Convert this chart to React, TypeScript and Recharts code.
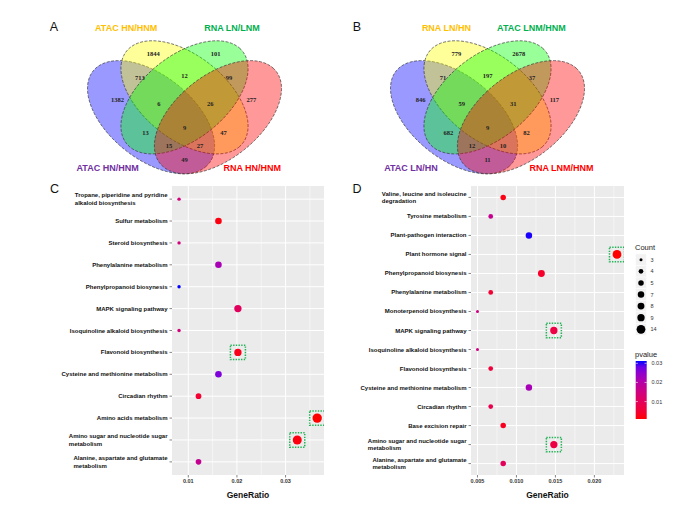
import React from 'react';
import { ScatterChart, Scatter, XAxis, YAxis, CartesianGrid } from 'recharts';

// ---------- Venn diagrams (A, B) ----------
// region keys: B = blue set, Y = yellow, G = green, R = red
const VENN_REGIONS = ['B', 'Y', 'G', 'R', 'BY', 'YG', 'GR', 'BYG', 'YGR', 'BYGR', 'BG', 'YR', 'BGR', 'BYR', 'BR'];

const VENN_A_SETS = ['ATAC HN/HNM', 'ATAC HN/HNM', 'RNA LN/LNM', 'RNA HN/HNM'];
const VENN_A_COUNTS = [1382, 1844, 101, 277, 713, 12, 99, 6, 26, 9, 13, 47, 15, 27, 49];

const VENN_B_SETS = ['ATAC LN/HN', 'RNA LN/HN', 'ATAC LNM/HNM', 'RNA LNM/HNM'];
const VENN_B_COUNTS = [846, 779, 2678, 117, 71, 197, 37, 59, 31, 9, 682, 82, 12, 10, 11];

// ---------- KEGG enrichment (C, D) ----------
const C_PATHWAYS = [
  'Tropane, piperidine and pyridine\nalkaloid biosynthesis',
  'Sulfur metabolism',
  'Steroid biosynthesis',
  'Phenylalanine metabolism',
  'Phenylpropanoid biosynesis',
  'MAPK signaling pathway',
  'Isoquinoline alkaloid biosynthesis',
  'Flavonoid biosynthesis',
  'Cysteine and methionine metabolism',
  'Circadian rhythm',
  'Amino acids metabolism',
  'Amino sugar and nucleotide sugar\nmetabolism',
  'Alanine, aspartate and glutamate\nmetabolism',
];
const C_RATIO = [0.0081, 0.0162, 0.0081, 0.0162, 0.0081, 0.0202, 0.0081, 0.0202, 0.0162, 0.0121, 0.0365, 0.0324, 0.0121];
const C_COUNT = [2, 4, 2, 4, 2, 5, 2, 5, 4, 3, 9, 8, 3];
const C_PVALUE = [0.018, 0.002, 0.018, 0.028, 0.04, 0.013, 0.018, 0.003, 0.034, 0.006, 0.001, 0.002, 0.022];
const C_MARKED = [false, false, false, false, false, false, false, true, false, false, true, true, false];

const D_PATHWAYS = [
  'Valine, leucine and isoleucine\ndegradation',
  'Tyrosine metabolism',
  'Plant-pathogen interaction',
  'Plant hormone signal',
  'Phenylpropanoid biosynesis',
  'Phenylalanine metabolism',
  'Monoterpenoid biosynthesis',
  'MAPK signaling pathway',
  'Isoquinoline alkaloid biosynthesis',
  'Flavonoid biosynthesis',
  'Cysteine and methionine metabolism',
  'Circadian rhythm',
  'Base excision repair',
  'Amino sugar and nucleotide sugar\nmetabolism',
  'Alanine, aspartate and glutamate\nmetabolism',
];
const D_RATIO = [0.0083, 0.0067, 0.0116, 0.0229, 0.0132, 0.0067, 0.005, 0.0148, 0.005, 0.0067, 0.0116, 0.0067, 0.0083, 0.0148, 0.0083];
const D_COUNT = [5, 4, 7, 14, 8, 4, 3, 9, 3, 4, 7, 4, 5, 9, 5];
const D_PVALUE = [0.002, 0.017, 0.031, 0.001, 0.004, 0.005, 0.015, 0.007, 0.015, 0.006, 0.022, 0.008, 0.003, 0.007, 0.01];
const D_MARKED = [false, false, false, true, false, false, false, true, false, false, false, false, false, true, false];

const D_COUNT_LEVELS = [3, 4, 5, 7, 8, 9, 14];
const D_P_TICKS = [0.03, 0.02, 0.01];

const C_X_TICKS = [0.01, 0.02, 0.03];
const C_X_MINOR = [0.015, 0.025, 0.035];
const D_X_TICKS = [0.005, 0.01, 0.015, 0.02];
const D_X_MINOR = [0.0075, 0.0125, 0.0175, 0.0225];

// ---------- layout / style ----------
const FONT = '"Liberation Sans", Arial, sans-serif';
const SET_FILL = ['#0000FF', '#FFFF00', '#00FF00', '#FF0000'];
const SET_LABEL_COLOR = ['#7030A0', '#FFC000', '#00B050', '#FF0000'];
const VENN_W = 223;
const VENN_H = 198.5;
const VENN_TOP = 12.2;
const VENN_PAD = 20;
const ELL_A = 0.35;
const ELL_B = 0.2;
const ELLIPSES = [
  { x: 0.35, y: 0.53, rot: 45 },
  { x: 0.5, y: 0.43, rot: 45 },
  { x: 0.5, y: 0.43, rot: -45 },
  { x: 0.65, y: 0.53, rot: -45 },
];
const REGION_POS: Record<string, [number, number]> = {
  B: [0.2, 0.44], Y: [0.36, 0.21], G: [0.64, 0.21], R: [0.8, 0.44],
  BY: [0.3, 0.33], YG: [0.5, 0.32], GR: [0.7, 0.33],
  BYG: [0.385, 0.46], YGR: [0.615, 0.46], BYGR: [0.5, 0.58],
  BG: [0.325, 0.605], YR: [0.675, 0.605],
  BGR: [0.43, 0.675], BYR: [0.57, 0.675], BR: [0.5, 0.745],
};
const TITLE_POS_A: [number, number][] = [[0.155, 0.785], [0.238, 0.081], [0.713, 0.081], [0.804, 0.785]];
const TITLE_POS_B: [number, number][] = [[0.157, 0.785], [0.316, 0.081], [0.697, 0.081], [0.832, 0.785]];

// ---------- colour: red -> blue in CIELAB, like ggplot ----------
const toLin = (c: number) => {
  c /= 255;
  return c <= 0.04045 ? c / 12.92 : Math.pow((c + 0.055) / 1.055, 2.4);
};
const fromLin = (c: number) => {
  const v = c <= 0.0031308 ? 12.92 * c : 1.055 * Math.pow(c, 1 / 2.4) - 0.055;
  return Math.round(Math.max(0, Math.min(1, v)) * 255);
};
const fLab = (t: number) => (t > 0.008856 ? Math.cbrt(t) : 7.787 * t + 16 / 116);
const fInv = (t: number) => (t > 0.206893 ? t * t * t : (t - 16 / 116) / 7.787);
function rgbToLab(r: number, g: number, b: number) {
  const R = toLin(r), G = toLin(g), B = toLin(b);
  const X = (0.4124 * R + 0.3576 * G + 0.1805 * B) / 0.95047;
  const Y = 0.2126 * R + 0.7152 * G + 0.0722 * B;
  const Z = (0.0193 * R + 0.1192 * G + 0.9505 * B) / 1.08883;
  const fx = fLab(X), fy = fLab(Y), fz = fLab(Z);
  return [116 * fy - 16, 500 * (fx - fy), 200 * (fy - fz)];
}
function labToHex(L: number, a: number, b: number) {
  const fy = (L + 16) / 116;
  const fx = fy + a / 500;
  const fz = fy - b / 200;
  const X = fInv(fx) * 0.95047, Y = fInv(fy), Z = fInv(fz) * 1.08883;
  const R = 3.2406 * X - 1.5372 * Y - 0.4986 * Z;
  const G = -0.9689 * X + 1.8758 * Y + 0.0415 * Z;
  const B = 0.0557 * X - 0.204 * Y + 1.057 * Z;
  return '#' + [R, G, B].map((c) => fromLin(c).toString(16).padStart(2, '0')).join('');
}
const RED_LAB = rgbToLab(255, 0, 0);
const BLUE_LAB = rgbToLab(0, 0, 255);
const rampColor = (t: number) => {
  const k = Math.max(0, Math.min(1, t));
  return labToHex(
    RED_LAB[0] + (BLUE_LAB[0] - RED_LAB[0]) * k,
    RED_LAB[1] + (BLUE_LAB[1] - RED_LAB[1]) * k,
    RED_LAB[2] + (BLUE_LAB[2] - RED_LAB[2]) * k,
  );
};

const C_P_DOMAIN: [number, number] = [0.001, 0.04];
const D_P_DOMAIN: [number, number] = [0.0009, 0.0312];
const C_R_RANGE: [number, number] = [1.7, 4.7];
const D_R_RANGE: [number, number] = [1.5, 4.4];

const radiusFor = (c: number, cMin: number, cMax: number, rr: [number, number]) =>
  rr[0] + (rr[1] - rr[0]) * Math.sqrt((c - cMin) / (cMax - cMin));

let measureCtx: CanvasRenderingContext2D | null = null;
const textWidth = (s: string, font: string) => {
  if (!measureCtx) measureCtx = document.createElement('canvas').getContext('2d');
  if (!measureCtx) return s.length * 3.3;
  measureCtx.font = font;
  return measureCtx.measureText(s).width;
};

// ---------- Venn ----------
const EllipseShape = (props: any) => {
  const { cx, cy, payload } = props;
  const th = (payload.rot * Math.PI) / 180;
  const pts: string[] = [];
  for (let k = 0; k <= 140; k++) {
    const t = (k / 140) * 2 * Math.PI;
    const ux = ELL_A * Math.cos(t);
    const uy = ELL_B * Math.sin(t);
    const rx = ux * Math.cos(th) - uy * Math.sin(th);
    const ry = ux * Math.sin(th) + uy * Math.cos(th);
    pts.push(`${(cx + rx * VENN_W).toFixed(2)},${(cy + ry * VENN_H).toFixed(2)}`);
  }
  return (
    <path
      d={`M${pts.join('L')}Z`}
      fill={payload.fill}
      fillOpacity={0.4}
      stroke="#3a3a3a"
      strokeWidth={0.7}
      strokeDasharray="3 1.5"
    />
  );
};

const CountShape = (props: any) => (
  <text
    x={props.cx}
    y={props.cy}
    textAnchor="middle"
    dominantBaseline="central"
    fontSize={6.5}
    fontWeight="bold"
    fontFamily='"Liberation Serif", "Times New Roman", serif'
    fill="#222"
  >
    {props.payload.text}
  </text>
);

const TitleShape = (props: any) => (
  <text
    x={props.cx}
    y={props.cy}
    textAnchor="middle"
    dominantBaseline="central"
    fontSize={9}
    fontWeight="bold"
    fontFamily={FONT}
    fill={props.payload.color}
  >
    {props.payload.text}
  </text>
);

function Venn({ left, sets, counts, titlePos }: { left: number; sets: string[]; counts: number[]; titlePos: [number, number][] }) {
  const ellipseData = ELLIPSES.map((e, i) => ({ ...e, fill: SET_FILL[i] }));
  const countData = VENN_REGIONS.map((k, i) => ({ x: REGION_POS[k][0], y: REGION_POS[k][1], text: String(counts[i]) }));
  const titleData = sets.map((s, i) => ({ x: titlePos[i][0], y: titlePos[i][1], text: s, color: SET_LABEL_COLOR[i] }));
  return (
    <div style={{ position: 'absolute', left: left - VENN_PAD, top: VENN_TOP - VENN_PAD }}>
      <ScatterChart
        width={VENN_W + 2 * VENN_PAD}
        height={VENN_H + 2 * VENN_PAD}
        margin={{ top: VENN_PAD, right: VENN_PAD, bottom: VENN_PAD, left: VENN_PAD }}
      >
        <XAxis type="number" dataKey="x" domain={[0, 1]} hide allowDataOverflow />
        <YAxis type="number" dataKey="y" domain={[0, 1]} reversed hide allowDataOverflow />
        <Scatter data={ellipseData} shape={EllipseShape} isAnimationActive={false} />
        <Scatter data={countData} shape={CountShape} isAnimationActive={false} />
        <Scatter data={titleData} shape={TitleShape} isAnimationActive={false} />
      </ScatterChart>
    </div>
  );
}

// ---------- dot plots ----------
const LABEL_FONT = `bold 6px ${FONT}`;

const PathwayTick = ({ x, y, payload, names }: any) => {
  const name: string = names[Math.round(payload.value) - 1] || '';
  const lines = name.split('\n');
  if (lines.length === 1) {
    return (
      <text x={x} y={y} textAnchor="end" dominantBaseline="central" fontSize={6} fontWeight="bold" fontFamily={FONT} fill="#111">
        {name}
      </text>
    );
  }
  const w = Math.max(...lines.map((l) => textWidth(l, LABEL_FONT)));
  const gap = 7.6;
  return (
    <g>
      {lines.map((l, i) => (
        <text
          key={i}
          x={x - w}
          y={y + (i - (lines.length - 1) / 2) * gap}
          textAnchor="start"
          dominantBaseline="central"
          fontSize={6}
          fontWeight="bold"
          fontFamily={FONT}
          fill="#111"
        >
          {l}
        </text>
      ))}
    </g>
  );
};

interface DotPlotProps {
  left: number;
  width: number;
  yWidth: number;
  names: string[];
  ratios: number[];
  counts: number[];
  pvals: number[];
  marked: boolean[];
  xDomain: [number, number];
  xTicks: number[];
  xMinor: number[];
  digits: number;
  rRange: [number, number];
  pDomain: [number, number];
}

const PLOT_TOP = 170;
const PLOT_HEIGHT = 340;
const PLOT_MARGIN_TOP = 16;
const PLOT_MARGIN_RIGHT = 16;
const X_AXIS_HEIGHT = 35;

function DotPlot(p: DotPlotProps) {
  const n = p.names.length;
  const cMin = Math.min(...p.counts);
  const cMax = Math.max(...p.counts);
  const rows = p.names.map((_, i) => i + 1);
  const data = p.names.map((name, i) => ({
    x: p.ratios[i],
    y: i + 1,
    name,
    count: p.counts[i],
    pvalue: p.pvals[i],
    marked: p.marked[i],
  }));

  const DotShape = (s: any) => {
    const d = s.payload;
    const r = radiusFor(d.count, cMin, cMax, p.rRange);
    const col = rampColor((d.pvalue - p.pDomain[0]) / (p.pDomain[1] - p.pDomain[0]));
    return (
      <g>
        {d.marked && (
          <rect
            x={s.cx - 7.5}
            y={s.cy - 7.2}
            width={15}
            height={14.4}
            fill="none"
            stroke="#22B357"
            strokeWidth={1.5}
            strokeDasharray="1.4 1.3"
          />
        )}
        <circle cx={s.cx} cy={s.cy} r={r} fill={col} />
      </g>
    );
  };

  return (
    <div style={{ position: 'absolute', left: p.left, top: PLOT_TOP, width: p.width, height: PLOT_HEIGHT }}>
      {/* ggplot grey panel behind the transparent chart svg */}
      <div
        style={{
          position: 'absolute',
          left: p.yWidth,
          top: PLOT_MARGIN_TOP,
          width: p.width - p.yWidth - PLOT_MARGIN_RIGHT,
          height: PLOT_HEIGHT - PLOT_MARGIN_TOP - X_AXIS_HEIGHT,
          background: '#EBEBEB',
        }}
      />
      <div style={{ position: 'absolute', left: 0, top: 0 }}>
        <ScatterChart
          width={p.width}
          height={PLOT_HEIGHT}
          margin={{ top: PLOT_MARGIN_TOP, right: PLOT_MARGIN_RIGHT, bottom: 0, left: 0 }}
        >
          <CartesianGrid stroke="#FFFFFF" strokeWidth={0.5} horizontal={false} verticalValues={p.xMinor} />
          <CartesianGrid stroke="#FFFFFF" strokeWidth={1} horizontalValues={rows} verticalValues={p.xTicks} />
          <XAxis
            type="number"
            dataKey="x"
            domain={p.xDomain}
            ticks={p.xTicks}
            interval={0}
            allowDataOverflow
            height={X_AXIS_HEIGHT}
            axisLine={false}
            tickSize={2.5}
            tickMargin={2}
            tickLine={{ stroke: '#333', strokeWidth: 0.6 }}
            tick={{ fontSize: 5.5, fill: '#333', fontWeight: 'bold', fontFamily: FONT }}
            tickFormatter={(v: number) => v.toFixed(p.digits)}
            label={{ value: 'GeneRatio', position: 'insideBottom', offset: 12, fontSize: 8.5, fontWeight: 'bold', fill: '#111', fontFamily: FONT }}
          />
          <YAxis
            type="number"
            dataKey="y"
            domain={[0.4, n + 0.6]}
            reversed
            ticks={rows}
            interval={0}
            allowDataOverflow
            width={p.yWidth}
            axisLine={false}
            tickSize={2.5}
            tickMargin={2}
            tickLine={{ stroke: '#333', strokeWidth: 0.6 }}
            tick={<PathwayTick names={p.names} />}
          />
          <Scatter data={data} shape={DotShape} isAnimationActive={false} />
        </ScatterChart>
      </div>
    </div>
  );
}

// ---------- legend for D + panel letters ----------
function Overlay() {
  const cMin = Math.min(...D_COUNT);
  const cMax = Math.max(...D_COUNT);
  const barX = 635.7;
  const barTop = 361;
  const barH = 58;
  const pY = (v: number) => barTop + barH - ((v - D_P_DOMAIN[0]) / (D_P_DOMAIN[1] - D_P_DOMAIN[0])) * barH;
  const stops = Array.from({ length: 11 }, (_, i) => i / 10);
  return (
    <svg width={700} height={521} style={{ position: 'absolute', left: 0, top: 0, pointerEvents: 'none' }}>
      <defs>
        <linearGradient id="pgrad" x1="0" y1="1" x2="0" y2="0">
          {stops.map((t) => (
            <stop key={t} offset={t} stopColor={rampColor(t)} />
          ))}
        </linearGradient>
      </defs>
      <g fontFamily={FONT} fontSize={12.5} fill="#111">
        <text x={54} y={31} textAnchor="middle">A</text>
        <text x={357} y={31} textAnchor="middle">B</text>
        <text x={54.5} y={193} textAnchor="middle">C</text>
        <text x={357} y={193} textAnchor="middle">D</text>
      </g>
      <g fontFamily={FONT}>
        <text x={635} y={250} fontSize={7.5} fill="#222">Count</text>
        {D_COUNT_LEVELS.map((c, i) => {
          const yc = 259.7 + i * 11.6;
          return (
            <g key={c}>
              <rect x={635.5} y={yc - 5.8} width={11} height={11.6} fill="#F2F2F2" stroke="#fff" strokeWidth={0.5} />
              <circle cx={641} cy={yc} r={radiusFor(c, cMin, cMax, D_R_RANGE)} fill="#000" />
              <text x={650.5} y={yc} dominantBaseline="central" fontSize={5.5} fill="#333">{c}</text>
            </g>
          );
        })}
        <text x={635} y={357} fontSize={7.5} fill="#222">pvalue</text>
        <rect x={barX} y={barTop} width={11} height={barH} fill="url(#pgrad)" />
        {D_P_TICKS.map((v) => (
          <g key={v}>
            <line x1={barX} x2={barX + 2.2} y1={pY(v)} y2={pY(v)} stroke="#fff" strokeWidth={0.6} />
            <line x1={barX + 8.8} x2={barX + 11} y1={pY(v)} y2={pY(v)} stroke="#fff" strokeWidth={0.6} />
            <text x={651.5} y={pY(v)} dominantBaseline="central" fontSize={5.5} fill="#333">{v.toFixed(2)}</text>
          </g>
        ))}
      </g>
    </svg>
  );
}

export default function App() {
  return (
    <div style={{ position: 'absolute', left: 0, top: 0, width: 700, height: 521, background: '#fff', fontFamily: FONT, overflow: 'hidden' }}>
      <Venn left={72.5} sets={VENN_A_SETS} counts={VENN_A_COUNTS} titlePos={TITLE_POS_A} />
      <Venn left={375.5} sets={VENN_B_SETS} counts={VENN_B_COUNTS} titlePos={TITLE_POS_B} />
      <DotPlot
        left={0}
        width={340}
        yWidth={172}
        names={C_PATHWAYS}
        ratios={C_RATIO}
        counts={C_COUNT}
        pvals={C_PVALUE}
        marked={C_MARKED}
        xDomain={[0.00665, 0.0379]}
        xTicks={C_X_TICKS}
        xMinor={C_X_MINOR}
        digits={2}
        rRange={C_R_RANGE}
        pDomain={C_P_DOMAIN}
      />
      <DotPlot
        left={300}
        width={340}
        yWidth={171}
        names={D_PATHWAYS}
        ratios={D_RATIO}
        counts={D_COUNT}
        pvals={D_PVALUE}
        marked={D_MARKED}
        xDomain={[0.00417, 0.0238]}
        xTicks={D_X_TICKS}
        xMinor={D_X_MINOR}
        digits={3}
        rRange={D_R_RANGE}
        pDomain={D_P_DOMAIN}
      />
      <Overlay />
    </div>
  );
}
